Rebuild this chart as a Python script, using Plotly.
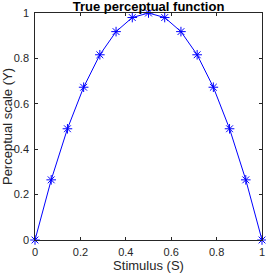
import plotly.graph_objects as go

stimulus = [0, 0.0714, 0.1429, 0.2143, 0.2857, 0.3571, 0.4286, 0.5, 0.5714, 0.6429, 0.7143, 0.7857, 0.8571, 0.9286, 1.0]
perceptual = [0, 0.265, 0.49, 0.673, 0.816, 0.918, 0.98, 1.0, 0.98, 0.918, 0.816, 0.673, 0.49, 0.265, 0]
ticks = [0, 0.2, 0.4, 0.6, 0.8, 1]
tick_labels = ["0", "0.2", "0.4", "0.6", "0.8", "1"]

FONT = "Liberation Sans, Arial, Helvetica"

fig = go.Figure()
fig.add_trace(go.Scatter(
    x=stimulus, y=perceptual, mode="lines+markers",
    line=dict(color="#0000FF", width=1),
    marker=dict(symbol="asterisk-open", size=8, color="#0000FF", line=dict(color="#0000FF", width=1)),
    cliponaxis=False, showlegend=False,
))

axis_common = dict(
    range=[0, 1], tickvals=ticks, ticktext=tick_labels,
    ticks="inside", ticklen=3, tickcolor="#262626", tickwidth=0.6,
    showline=True, linecolor="#262626", linewidth=0.6, mirror="ticks",
    showgrid=False, zeroline=False, automargin=False,
    tickfont=dict(family=FONT, size=11, color="#262626"),
)

fig.update_layout(
    width=266, height=274,
    margin=dict(l=35, r=4, t=13, b=34, autoexpand=False),
    paper_bgcolor="white", plot_bgcolor="white",
    title=dict(text="<b>True perceptual function</b>", x=0.5, xref="paper", xanchor="center",
               y=1, yref="paper", yanchor="bottom", pad=dict(b=2), automargin=False,
               font=dict(family=FONT, size=13, color="black")),
    xaxis=dict(axis_common, ticklabelstandoff=2, title=dict(text="Stimulus (S)", standoff=2,
               font=dict(family=FONT, size=13, color="#262626"))),
    yaxis=dict(axis_common, ticklabelstandoff=3, title=dict(text="Perceptual scale (Y)", standoff=4,
               font=dict(family=FONT, size=13, color="#262626"))),
)

fig.write_html("out.html", config={"displayModeBar": False},
               post_script="document.body.style.margin='0';")
